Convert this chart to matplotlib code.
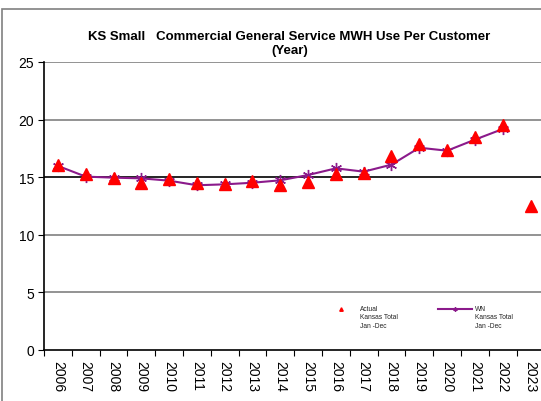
import matplotlib.pyplot as plt
from matplotlib.lines import Line2D
from matplotlib.patches import Rectangle

plt.rcParams['font.family'] = ['Liberation Sans', 'DejaVu Sans']

# Data
years = [str(y) for y in range(2006, 2024)]
actual = [16.06, 15.28, 14.9, 14.5, 14.88, 14.47, 14.45, 14.65, 14.3,
          14.55, 15.28, 15.36, 16.81, 17.88, 17.36, 18.46, 19.53, 12.47]
wn = [15.98, 15.05, 14.96, 14.9, 14.7, 14.3, 14.38, 14.52, 14.73,
      15.19, 15.77, 15.48, 16.09, 17.56, 17.3, 18.26, 19.18, None]
y_ticks = [0, 5, 10, 15, 20, 25]

fig = plt.figure(figsize=(5.41, 4.02), dpi=100)

# outer chart frame
fig.add_artist(Line2D([0, 1], [1.0, 1.0], transform=fig.transFigure, color='#808080', lw=1.2))
fig.add_artist(Rectangle((2 / 541, -0.05), 1.0, 1.05 - 10 / 402, transform=fig.transFigure,
                         fill=False, edgecolor='#808080', lw=1.2))

ax = fig.add_axes([44 / 541, 51 / 402, 500.4 / 541, 288 / 402])
x = list(range(len(years)))

# gridlines
for yv in y_ticks[1:]:
    ax.axhline(yv, color='black' if yv == 15 else '#808080', lw=1.2, zorder=1)

wn_x = [i for i, v in zip(x, wn) if v is not None]
wn_y = [v for v in wn if v is not None]
ax.plot(wn_x, wn_y, color='#8B1A8B', lw=1.5, marker=(6, 2, 0), markersize=8,
        markeredgewidth=1.0, markeredgecolor='#8B1A8B', zorder=3)
ax.plot(x, actual, linestyle='none', marker='^', color='red', markersize=8, zorder=4)

ax.set_xlim(-0.5, len(years) - 0.5)
ax.set_ylim(0, 25)
ax.set_yticks(y_ticks)
ax.set_yticklabels([str(v) for v in y_ticks], fontsize=10)
ax.set_xticks([i - 0.5 for i in range(len(years) + 1)])
ax.set_xticklabels([])
ax.set_xticks(x, minor=True)
ax.set_xticklabels(years, minor=True, rotation=-90, fontsize=10)
ax.tick_params(axis='x', which='minor', length=0, pad=7)
ax.tick_params(axis='x', which='major', length=4, direction='out')
ax.tick_params(axis='y', length=4, direction='out', pad=3)
for s in ['top', 'right']:
    ax.spines[s].set_visible(False)
for s in ['left', 'bottom']:
    ax.spines[s].set_linewidth(1.2)

fig.text(289.5 / 541, 1 - 44 / 402, 'KS Small   Commercial General Service MWH Use Per Customer\n(Year)',
         ha='center', va='center', fontsize=9.5, fontweight='bold', linespacing=1.3)

# legend drawn by hand
fig.add_artist(Line2D([341 / 541], [1 - 310 / 402], transform=fig.transFigure,
                      marker='^', color='red', markersize=2.5, linestyle='none'))
fig.text(360 / 541, 1 - 306 / 402, 'Actual\nKansas Total\nJan -Dec', fontsize=4.8,
         va='top', ha='left', color='#222222', linespacing=1.3)
fig.add_artist(Line2D([438 / 541, 472 / 541], [1 - 310 / 402] * 2, transform=fig.transFigure,
                      color='#8B1A8B', lw=1.5))
fig.add_artist(Line2D([455 / 541], [1 - 310 / 402], transform=fig.transFigure,
                      marker=(6, 2, 0), color='#8B1A8B', markersize=3, linestyle='none'))
fig.text(475 / 541, 1 - 306 / 402, 'WN\nKansas Total\nJan -Dec', fontsize=4.8,
         va='top', ha='left', color='#222222', linespacing=1.3)

fig.savefig('out.png', dpi=100)
